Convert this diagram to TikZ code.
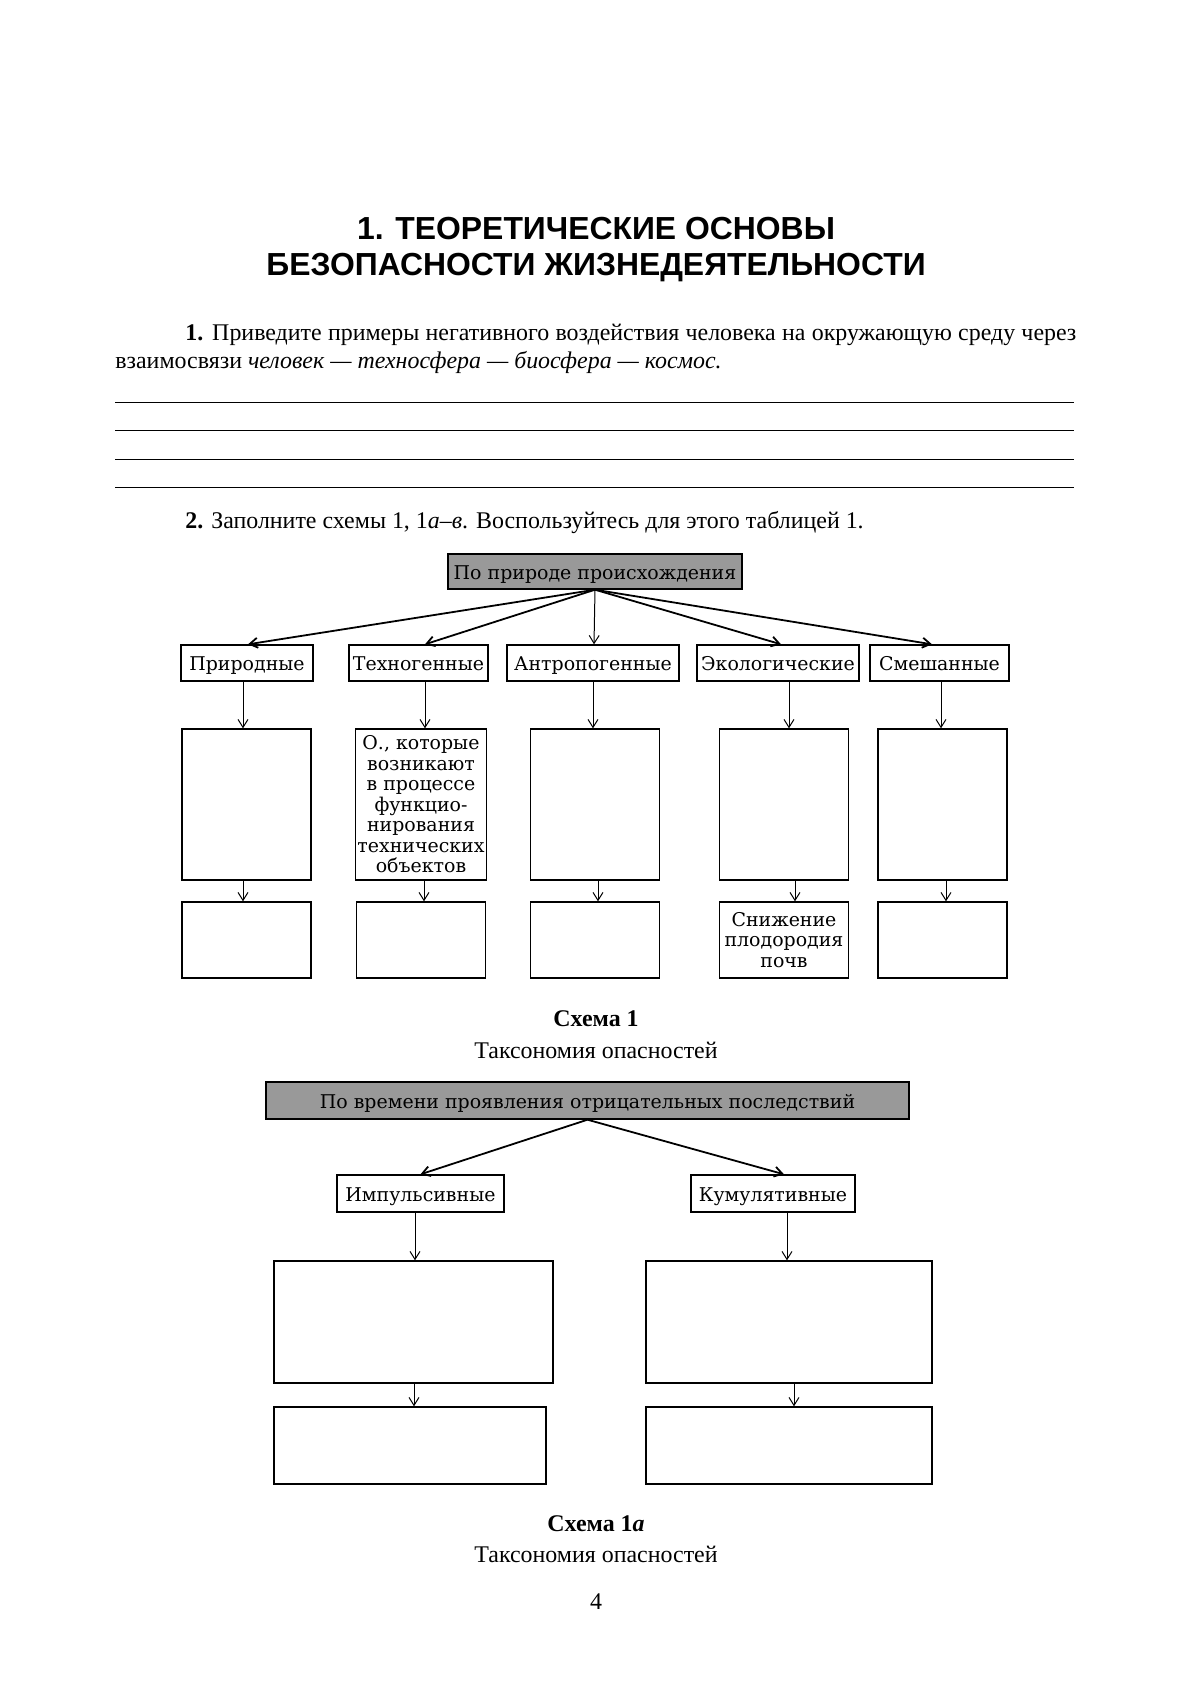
\documentclass[tikz,border=0pt]{standalone}
\usepackage{fontspec}
\setmainfont{Liberation Serif}
\newfontfamily\headfont{Liberation Sans}
\newfontfamily\cellfont{DejaVu Serif}
\usetikzlibrary{arrows.meta}

\begin{document}
\begin{tikzpicture}[
  x=0.5bp, y=-0.5bp,
  >={Straight Barb[length=4pt,width=5pt]},
  cell/.style={rectangle, draw=black, line width=0.7pt, inner sep=1pt, align=center, font=\cellfont\fontsize{9.5}{10.3}\selectfont},
  head/.style={cell, fill=black!40, minimum height=17.5bp, text height=8.5pt, text depth=0.5pt},
  kind/.style={cell, minimum height=18bp, text height=8.5pt, text depth=0.5pt},
  slot/.style={cell, minimum width=64.5bp, minimum height=75.5bp},
  leaf/.style={cell, minimum width=64.5bp, minimum height=38bp},
  fan/.style={->, line width=0.9pt},
  down/.style={->, line width=0.5pt},
  body/.style={inner sep=0pt, font=\fontsize{12}{14}\selectfont}
]
  \fill[white] (0,0) rectangle (1191,1684);
  \useasboundingbox (0,0) rectangle (1191,1684);

  % Heading and tasks
  \node[align=center, font=\headfont\bfseries\fontsize{16}{18.5}\selectfont] (title) at (596,249.5) {1. ТЕОРЕТИЧЕСКИЕ ОСНОВЫ\\БЕЗОПАСНОСТИ ЖИЗНЕДЕЯТЕЛЬНОСТИ};
  \node[body, anchor=base west] (task1a) at (185,340) {\makebox[445.5bp][s]{\textbf{1.} Приведите примеры негативного воздействия человека на окружающую среду через}};
  \node[body, anchor=base west] (task1b) at (115,368) {взаимосвязи \textit{человек — техносфера — биосфера — космос.}};
  \foreach \y in {402,430.5,459,487.5}
    \draw[line width=0.5pt] (115,\y) -- (1074,\y);
  \node[body, anchor=base west] (task2) at (185,528) {\textbf{2.} Заполните схемы 1, 1\textit{а}–\textit{в}. Воспользуйтесь для этого таблицей 1.};

  % Scheme 1: source
  \node[head, minimum width=147bp] (src1) at (595,571.5) {По природе происхождения};

  % Scheme 1: kinds
  \node[kind, minimum width=66bp] (nat) at (247,663) {Природные};
  \node[kind, minimum width=69.5bp] (tech) at (418.5,663) {Техногенные};
  \node[kind, minimum width=86bp] (anth) at (593,663) {Антропогенные};
  \node[kind, minimum width=81bp] (eco) at (778,663) {Экологические};
  \node[kind, minimum width=69.5bp] (mix) at (939.5,663) {Смешанные};

  % Scheme 1: definitions
  \node[slot] (nat3) at (246.5,804.5) {};
  \node[slot] (tech3) at (421,804.5) {О., которые\\возникают\\в процессе\\функцио-\\нирования\\технических\\объектов};
  \node[slot] (anth3) at (595,804.5) {};
  \node[slot] (eco3) at (784,804.5) {};
  \node[slot] (mix3) at (942.5,804.5) {};

  % Scheme 1: examples
  \node[leaf] (nat4) at (246.5,940) {};
  \node[leaf] (tech4) at (421,940) {};
  \node[leaf] (anth4) at (595,940) {};
  \node[leaf] (eco4) at (784,940) {Снижение\\плодородия\\почв};
  \node[leaf] (mix4) at (942.5,940) {};

  % Scheme 1: source -> kinds
  \draw[fan] (src1.south) -- ([xshift=0.5bp]nat.north);
  \draw[fan] (src1.south) -- ([xshift=3.25bp]tech.north);
  \draw[down] (src1.south) -- ([xshift=0.5bp]anth.north);
  \draw[fan] (src1.south) -- ([xshift=1.5bp]eco.north);
  \draw[fan] (src1.south) -- ([xshift=-3.75bp]mix.north);

  % Scheme 1: kinds -> definitions
  \draw[down] ([xshift=-1.75bp]nat3.north |- nat.south) -- ([xshift=-1.75bp]nat3.north);
  \draw[down] ([xshift=2bp]tech3.north |- tech.south) -- ([xshift=2bp]tech3.north);
  \draw[down] ([xshift=-1bp]anth3.north |- anth.south) -- ([xshift=-1bp]anth3.north);
  \draw[down] ([xshift=2.5bp]eco3.north |- eco.south) -- ([xshift=2.5bp]eco3.north);
  \draw[down] ([xshift=-0.75bp]mix3.north |- mix.south) -- ([xshift=-0.75bp]mix3.north);

  % Scheme 1: definitions -> examples
  \draw[down] ([xshift=-1.75bp]nat3.south) -- ([xshift=-1.75bp]nat4.north);
  \draw[down] ([xshift=1.5bp]tech3.south) -- ([xshift=1.5bp]tech4.north);
  \draw[down] ([xshift=1.5bp]anth3.south) -- ([xshift=1.5bp]anth4.north);
  \draw[down] ([xshift=5.5bp]eco3.south) -- ([xshift=5.5bp]eco4.north);
  \draw[down] ([xshift=1.75bp]mix3.south) -- ([xshift=1.75bp]mix4.north);

  \node[body, font=\bfseries\fontsize{12}{14}\selectfont] (cap1) at (596,1019) {Схема 1};
  \node[body] (sub1) at (596,1050) {Таксономия опасностей};

  % Scheme 1a
  \node[head, minimum width=321.5bp, minimum height=18.5bp] (src2) at (587.5,1100.5) {По времени проявления отрицательных последствий};
  \node[kind, minimum width=83.5bp, minimum height=18.5bp] (imp) at (420.5,1193.5) {Импульсивные};
  \node[kind, minimum width=82bp, minimum height=18.5bp] (cum) at (773,1193.5) {Кумулятивные};
  \node[cell, minimum width=139.5bp, minimum height=61bp] (imp3) at (413.5,1322) {};
  \node[cell, minimum width=143bp, minimum height=61bp] (cum3) at (789,1322) {};
  \node[cell, minimum width=136bp, minimum height=38.5bp] (imp4) at (410,1445.5) {};
  \node[cell, minimum width=143bp, minimum height=38.5bp] (cum4) at (789,1445.5) {};

  \draw[fan] (src2.south) -- (imp.north);
  \draw[fan] (src2.south) -- ([xshift=5.5bp]cum.north);
  \draw[down] ([xshift=0.75bp]imp3.north |- imp.south) -- ([xshift=0.75bp]imp3.north);
  \draw[down] ([xshift=-1bp]cum3.north |- cum.south) -- ([xshift=-1bp]cum3.north);
  \draw[down] ([xshift=0.25bp]imp3.south) -- ([xshift=0.25bp]imp3.south |- imp4.north);
  \draw[down] ([xshift=2.5bp]cum3.south) -- ([xshift=2.5bp]cum4.north);

  \node[body, font=\bfseries\fontsize{12}{14}\selectfont] (cap2) at (596,1524) {Схема 1\textit{а}};
  \node[body] (sub2) at (596,1554) {Таксономия опасностей};
  \node[body] (page) at (596,1602) {4};
\end{tikzpicture}
\end{document}
